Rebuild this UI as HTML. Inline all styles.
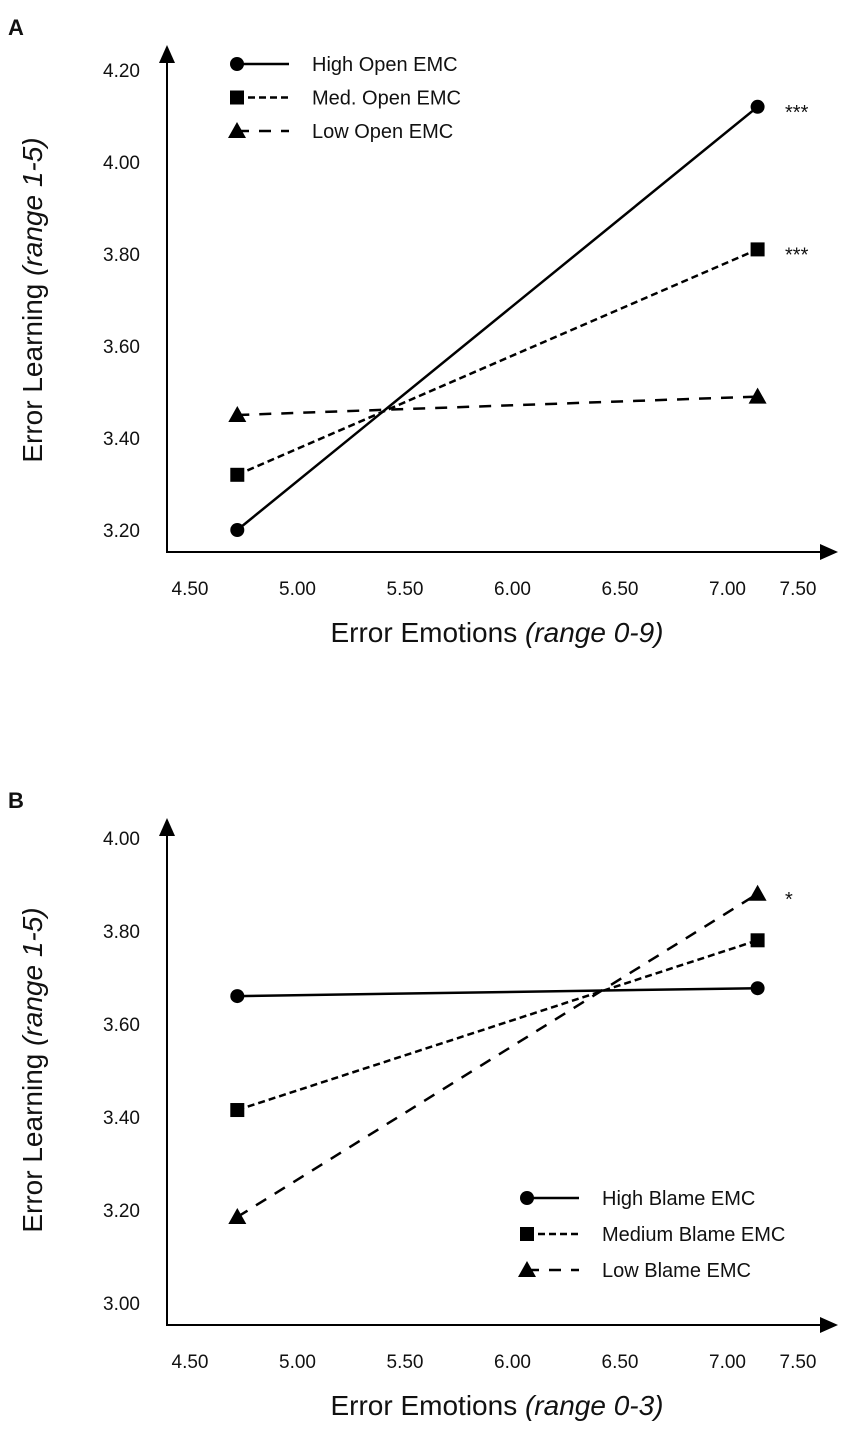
<!DOCTYPE html>
<html><head><meta charset="utf-8"><style>
body{margin:0;background:#fff}
svg text{font-family:"Liberation Sans",sans-serif;fill:#111}
</style></head><body>
<svg id="s" width="854" height="1425" xmlns="http://www.w3.org/2000/svg"></svg>
<script>
const xTicks=["4.50","5.00","5.50","6.00","6.50","7.00","7.50"];
const xVals=[4.72,7.14];
const yTicksA=["3.20","3.40","3.60","3.80","4.00","4.20"];
const yTicksB=["3.00","3.20","3.40","3.60","3.80","4.00"];
const highA=[3.20,4.12];
const medA=[3.32,3.81];
const lowA=[3.45,3.49];
const highB=[3.66,3.677];
const medB=[3.415,3.78];
const lowB=[3.185,3.88];
const namesA=["High Open EMC","Med. Open EMC","Low Open EMC"];
const namesB=["High Blame EMC","Medium Blame EMC","Low Blame EMC"];
const NS="http://www.w3.org/2000/svg";
const svg=document.getElementById('s');
function el(t,a,txt){const e=document.createElementNS(NS,t);for(const k in a)e.setAttribute(k,a[k]);if(txt!==undefined)e.textContent=txt;svg.appendChild(e);return e;}
const dashes=["none","7,4","12,10"];
function marker(kind,x,y){
  let e;
  if(kind===0)e=el('circle',{cx:x,cy:y,r:7,fill:'#000'});
  else if(kind===1)e=el('rect',{x:x-7,y:y-7,width:14,height:14,fill:'#000'});
  else e=el('polygon',{points:`${x},${y-9} ${x-9},${y+7} ${x+9},${y+7}`,fill:'#000'});
  return e;
}
function panel(o){
  const xs=v=>o.x0+(v-4.5)/0.5*107.5;
  const ys=v=>o.yb-(v-o.ymin)/0.2*o.step;
  const lab=el('text',{x:8,y:o.top-10,'font-size':22,'font-weight':'bold'},o.letter);
  
  
  const ax=el('path',{d:`M167,${o.top+14} V${o.axY} H824`,stroke:'#000','stroke-width':2,fill:'none'});
  
  
  el('polygon',{points:`167,${o.top} 159,${o.top+18} 175,${o.top+18}`,fill:'#000'});
  el('polygon',{points:`838,${o.axY} 820,${o.axY-8} 820,${o.axY+8}`,fill:'#000'});
  o.yt.forEach((t,i)=>{const e=el('text',{x:140,y:ys(parseFloat(t))+7,'font-size':19,'text-anchor':'end'},t);
    });
  xTicks.forEach((t,i)=>{let x=xs(parseFloat(t));if(i===6)x=798;const e=el('text',{x:x,y:o.axY+43,'font-size':19,'text-anchor':'middle'},t);
    });
  const xt=el('text',{x:497,y:o.axY+90,'font-size':28,'text-anchor':'middle'});
  xt.innerHTML='Error Emotions <tspan font-style="italic">('+o.range+')</tspan>';
  
  const yt=el('text',{x:0,y:0,'font-size':28,'text-anchor':'middle',transform:`translate(42,${o.ymid}) rotate(-90)`});
  yt.innerHTML='Error Learning <tspan font-style="italic">(range 1-5)</tspan>';
  
  o.series.forEach((s,k)=>{
    const ln=el('line',{x1:xs(xVals[0]),y1:ys(s[0]),x2:xs(xVals[1]),y2:ys(s[1]),stroke:'#000','stroke-width':2.5,'stroke-dasharray':dashes[k]});
    
    s.forEach((v,j)=>{const m=marker(k,xs(xVals[j]),ys(v));});
  });
  o.names.forEach((n,k)=>{
    const y=o.legY+k*o.legDy;
    el('line',{x1:o.legX,y1:y,x2:o.legX+52,y2:y,stroke:'#000','stroke-width':2.5,'stroke-dasharray':dashes[k]});
    marker(k,o.legX,y);
    const t=el('text',{x:o.legX+75,y:y+7,'font-size':20},n);
    
  });
  o.stars.forEach(s=>{const t=el('text',{x:785,y:ys(s[0])+12,'font-size':20},s[1]);
    });
}
panel({letter:'A',top:45,axY:552,x0:190,yb:530,ymin:3.2,step:92,yt:yTicksA,range:'range 0-9',ymid:300,
  series:[highA,medA,lowA],names:namesA,legX:237,legY:64,legDy:33.5,stars:[[highA[1],'***'],[medA[1],'***']]});
panel({letter:'B',top:818,axY:1325,x0:190,yb:1303,ymin:3.0,step:93,yt:yTicksB,range:'range 0-3',ymid:1070,
  series:[highB,medB,lowB],names:namesB,legX:527,legY:1198,legDy:36,stars:[[lowB[1],'*']]});
</script>
</body></html>
